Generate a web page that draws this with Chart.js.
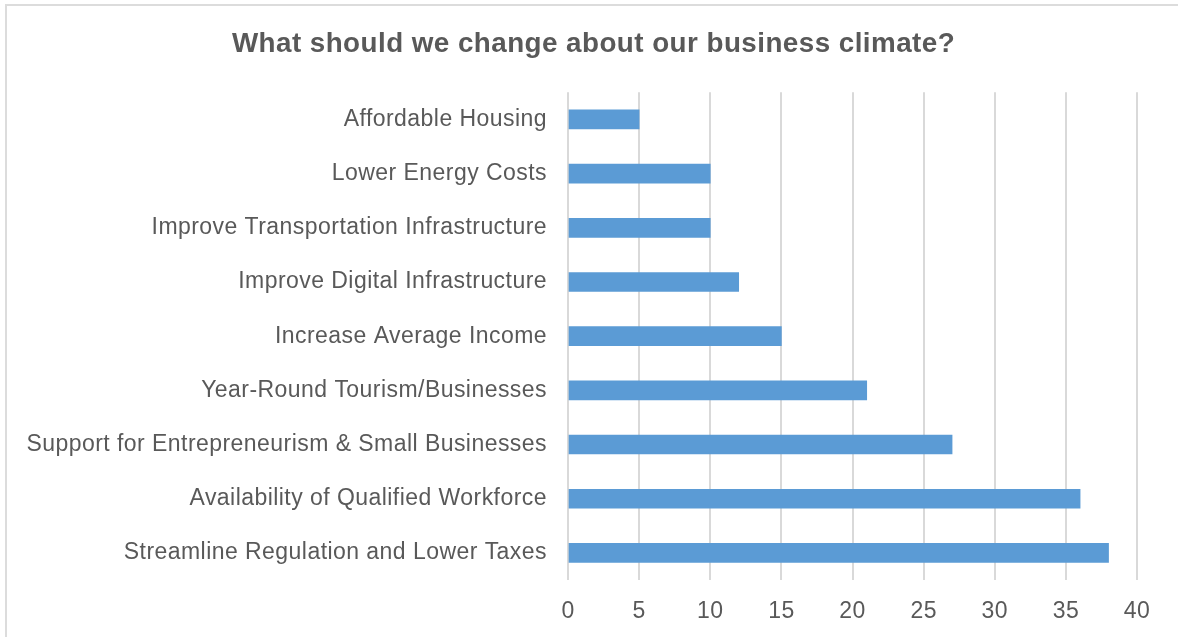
<!DOCTYPE html>
<html>
<head>
<meta charset="utf-8">
<script src="https://cdn.jsdelivr.net/npm/chart.js@4"></script>
<style>
  html, body { margin: 0; padding: 0; background: #fff; overflow: hidden; }
  #frame {
    position: absolute; left: 5px; top: 4px; width: 1200px; height: 700px;
    border: 2px solid #dcdcdc; box-sizing: border-box; pointer-events: none;
  }
  #wrap { position: absolute; left: 0; top: 0; width: 1178px; height: 637px; }
</style>
</head>
<body>
<div id="wrap"><canvas id="chart" width="1178" height="637"></canvas></div>
<div id="frame"></div>
<script>
const title = 'What should we change about our business climate?';

const categories = [
    'Affordable Housing',
    'Lower Energy Costs',
    'Improve Transportation Infrastructure',
    'Improve Digital Infrastructure',
    'Increase Average Income',
    'Year-Round Tourism/Businesses',
    'Support for Entrepreneurism & Small Businesses',
    'Availability of Qualified Workforce',
    'Streamline Regulation and Lower Taxes'
];
const responses = [5, 10, 10, 12, 15, 21, 27, 36, 38];
const xTicks = [0, 5, 10, 15, 20, 25, 30, 35, 40];

const textColor = '#595959';
const fontFamily = '"Liberation Sans", Arial, Helvetica, sans-serif';

// slightly looser text so labels get a wider, Helvetica-like set
const letterSpacing = {
    id: 'letterSpacing',
    beforeUpdate(chart) { chart.ctx.letterSpacing = '0.45px'; },
    beforeDraw(chart) { chart.ctx.letterSpacing = '0.45px'; }
};

// the long category names run into the left padding; let the y axis
// box reach the canvas edge so they are not clipped
const wideLabels = {
    id: 'wideLabels',
    afterLayout(chart) { chart.scales.y.left = 0; }
};

const ctx = document.getElementById('chart').getContext('2d');
const chart = new Chart(ctx, {
    type: 'bar',
    data: {
        labels: categories,
        datasets: [{
            label: 'Responses',
            data: responses,
            backgroundColor: '#5b9bd5',
            borderWidth: 0,
            barThickness: 19
        }]
    },
    plugins: [letterSpacing, wideLabels],
    options: {
        indexAxis: 'y',
        responsive: false,
        animation: false,
        layout: {
            padding: { left: 50, right: 41, top: 20, bottom: 0 }
        },
        plugins: {
            legend: { display: false },
            tooltip: { enabled: false },
            title: {
                display: true,
                text: title,
                color: textColor,
                font: { family: fontFamily, size: 27.8, weight: 'bold' },
                padding: { top: 8, bottom: 31 }
            }
        },
        scales: {
            x: {
                min: 0,
                max: 40,
                afterBuildTicks: function(axis) {
                    axis.ticks = xTicks.map(v => ({ value: v }));
                },
                afterFit: function(axis) {
                    axis.height = 57;
                },
                grid: {
                    color: '#d9d9d9',
                    lineWidth: 2,
                    drawTicks: false
                },
                border: { display: false },
                ticks: {
                    color: textColor,
                    padding: 18,
                    font: { family: fontFamily, size: 23 }
                }
            },
            y: {
                grid: { display: false },
                border: { display: false },
                afterFit: function(axis) {
                    axis.width = 518;
                },
                ticks: {
                    color: textColor,
                    padding: 13,
                    font: { family: fontFamily, size: 23 }
                }
            }
        }
    }
});
</script>
</body>
</html>
